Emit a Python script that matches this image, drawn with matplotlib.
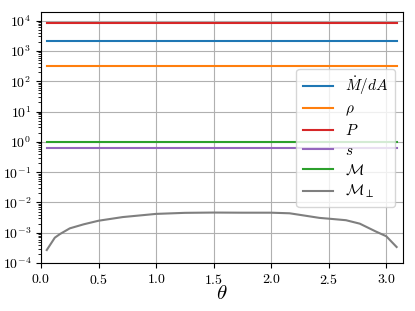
import matplotlib
matplotlib.use("Agg")
import matplotlib.pyplot as plt
from matplotlib.ticker import LogLocator, NullFormatter

plt.rcParams['font.family'] = 'serif'
plt.rcParams['font.serif'] = ['cmr10']
plt.rcParams['mathtext.fontset'] = 'cm'
plt.rcParams['axes.formatter.use_mathtext'] = True

theta = [0.05, 0.12, 0.165, 0.25, 0.37, 0.50, 0.71, 1.00, 1.25, 1.50, 1.75, 2.00, 2.16, 2.25, 2.42, 2.51, 2.65, 2.77, 2.91, 3.00, 3.09]
mdot = [2140, 2140, 2140, 2140, 2140, 2140, 2140, 2140, 2140, 2140, 2140, 2140, 2140, 2140, 2140, 2140, 2140, 2140, 2140, 2140, 2140]
rho = [320, 320, 320, 320, 320, 320, 320, 320, 320, 320, 320, 320, 320, 320, 320, 320, 320, 320, 320, 320, 320]
pres = [8600, 8600, 8600, 8600, 8600, 8600, 8600, 8600, 8600, 8600, 8600, 8600, 8600, 8600, 8600, 8600, 8600, 8600, 8600, 8600, 8600]
ent = [0.61, 0.61, 0.61, 0.61, 0.61, 0.61, 0.61, 0.61, 0.61, 0.61, 0.61, 0.61, 0.61, 0.61, 0.61, 0.61, 0.61, 0.61, 0.61, 0.61, 0.61]
mach = [1.0, 1.0, 1.0, 1.0, 1.0, 1.0, 1.0, 1.0, 1.0, 1.0, 1.0, 1.0, 1.0, 1.0, 1.0, 1.0, 1.0, 1.0, 1.0, 1.0, 1.0]
mperp = [2.7e-4, 6.9e-4, 9.1e-4, 1.4e-3, 1.9e-3, 2.5e-3, 3.3e-3, 4.2e-3, 4.55e-3, 4.65e-3, 4.6e-3, 4.6e-3, 4.4e-3, 3.9e-3, 3.1e-3, 2.9e-3, 2.6e-3, 2.0e-3, 1.1e-3, 7.7e-4, 3.4e-4]

labels = [r'$\dot{M}/dA$', r'$\rho$', r'$P$', r'$s$', r'$\mathcal{M}$', r'$\mathcal{M}_\perp$']
colors = ['C0', 'C1', 'C3', 'C4', 'C2', 'C7']

fig = plt.figure(figsize=(4.15, 3.11), dpi=100)
ax = fig.add_axes([0.0988, 0.154, 0.8712, 0.807])
for y, lab, c in zip([mdot, rho, pres, ent, mach, mperp], labels, colors):
    ax.plot(theta, y, color=c, label=lab)
ax.set_yscale('log')
ax.set_xlim(0, 3.14159)
ax.set_ylim(1e-4, 1.9e4)
ax.yaxis.set_major_locator(LogLocator(base=10, numticks=20))
ax.yaxis.set_minor_locator(LogLocator(base=10, subs=[2, 3, 4, 5, 6, 7, 8, 9], numticks=20))
ax.yaxis.set_minor_formatter(NullFormatter())
ax.grid(True)
ax.set_xlabel(r'$\theta$', fontsize=15, labelpad=-1)
ax.legend(loc='center right', fontsize=11, labelspacing=0.35, borderaxespad=0.5)
fig.savefig('out.png', dpi=100)
